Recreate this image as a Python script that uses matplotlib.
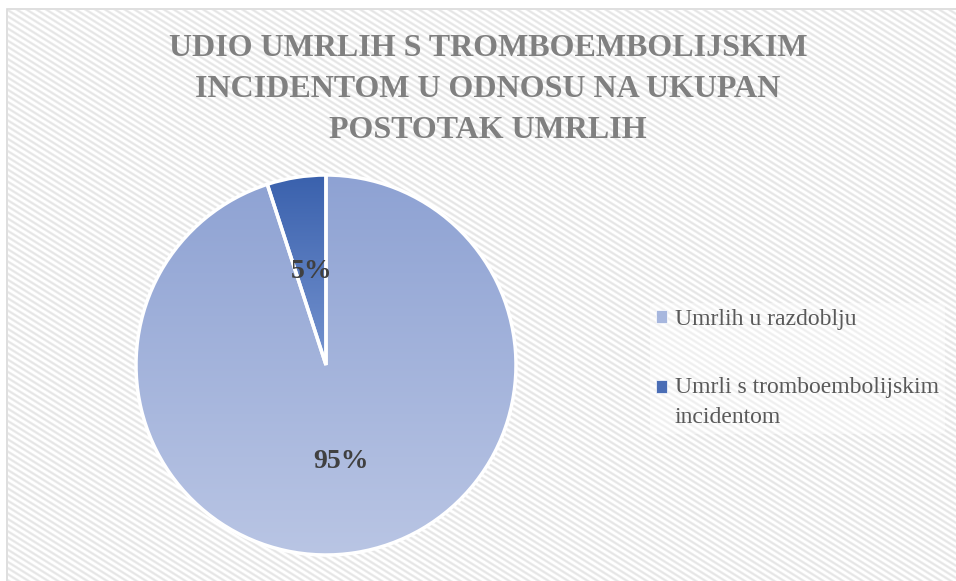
#!/usr/bin/env python3
"""
pie chart: share of deaths with thromboembolic incident
"""
import numpy as np
import matplotlib
matplotlib.use('Agg')
import matplotlib.pyplot as plt
from matplotlib.patches import Rectangle, Patch
from matplotlib.colors import LinearSegmentedColormap
from matplotlib.legend_handler import HandlerPatch

#%% data
labels = ['Umrlih u razdoblju', 'Umrli s tromboembolijskim\nincidentom']
shares = [95, 5]
title = 'UDIO UMRLIH S TROMBOEMBOLIJSKIM\nINCIDENTOM U ODNOSU NA UKUPAN\nPOSTOTAK UMRLIH'

# gradient colours per slice (top, bottom)
grad = [('#8ea2d3', '#b9c5e4'), ('#3a61ad', '#7593cf')]
legcol = ['#a7b7de', '#4a6db5']

W, H = 956, 581
serif = ['Liberation Serif', 'DejaVu Serif']

fig = plt.figure(figsize=(W/100, H/100), dpi=100)
fig.patch.set_facecolor('white')
#%% striped background (shallow diagonal stripes, top-left -> bottom-right)
x0, y0 = 8, 10   # pixel offset of chart area (from top-left)
yy, xx = np.mgrid[0:H - y0, 0:W - x0]
ang = np.deg2rad(32)
d = -xx*np.sin(ang) + yy*np.cos(ang)
s = 0.5 + 0.5*np.cos(2*np.pi*d/5.2)
shade = 1 - 0.10*np.clip((s - 0.2)/0.8, 0, 1)
img = np.dstack([shade]*3)
fig.figimage(img, xo=x0, yo=0, origin='upper', zorder=-10)
# chart border: only top and left edges fall inside the picture
fig.patches.append(Rectangle((7/W, -20/H), 1000/W, 1 - 9/H + 20/H, transform=fig.transFigure,
                             fill=False, edgecolor='#d9d9d9', linewidth=1.2, zorder=-5))

#%% pie axes, placed in pixels: centre (326,365), radius 190
cx, cy, r = 326, 365, 190
ax = fig.add_axes([(cx - r)/W, 1 - (cy + r)/H, 2*r/W, 2*r/H])
ax.set_axis_off()
wedges, texts, autotexts = ax.pie(shares, startangle=90, counterclock=False, radius=1,
                                  autopct='%1.0f%%', pctdistance=0.5,
                                  wedgeprops=dict(edgecolor='white', linewidth=2.5),
                                  textprops=dict(family=serif, fontsize=20,
                                                 fontweight='bold', color='#404040'))
autotexts[0].set_position((0.08, -0.51))

# vertical gradient fill clipped to each wedge
for w, (ctop, cbot) in zip(wedges, grad):
    bb = w.get_path().get_extents(w.get_patch_transform())
    cm = LinearSegmentedColormap.from_list('g', [cbot, ctop])
    g = np.linspace(0, 1, 256).reshape(-1, 1)
    im = ax.imshow(g, cmap=cm, origin='lower', aspect='auto',
                   extent=[bb.x0, bb.x1, bb.y0, bb.y1], zorder=w.get_zorder() - 0.1)
    im.set_clip_path(w)
    w.set_facecolor('none')
for t in autotexts:
    t.set_zorder(5)
ax.set_xlim(-1, 1)
ax.set_ylim(-1, 1)
ax.set_aspect('equal')

#%% title
fig.text(488/W, 1 - 89.5/H, title, ha='center', va='center', family=serif,
         fontsize=23, fontweight='bold', color='#808080', linespacing=1.565)

#%% legend
def top_line_patch(legend, orig_handle, xdescent, ydescent, width, height, fontsize):
    # two-line label: keep the marker on the first line (like Excel)
    return Rectangle((-xdescent, -ydescent + 11.2), width, height)

handles = [Patch(facecolor=c, edgecolor='white', linewidth=0.5) for c in legcol]
leg = fig.legend(handles, labels, loc='upper left', bbox_to_anchor=(650/W, 1 - 303/H),
                 frameon=True, prop=dict(family=serif, size=17),
                 handlelength=0.45, handleheight=0.45, handletextpad=0.35,
                 labelspacing=2.0, borderpad=0.25, borderaxespad=0,
                 handler_map={handles[1]: HandlerPatch(patch_func=top_line_patch)})
leg.get_frame().set_facecolor('white')
leg.get_frame().set_alpha(0.4)
leg.get_frame().set_linewidth(0)
for t in leg.get_texts():
    t.set_color('#595959')
    t.set_linespacing(1.55)

fig.savefig('out.png', dpi=100)
